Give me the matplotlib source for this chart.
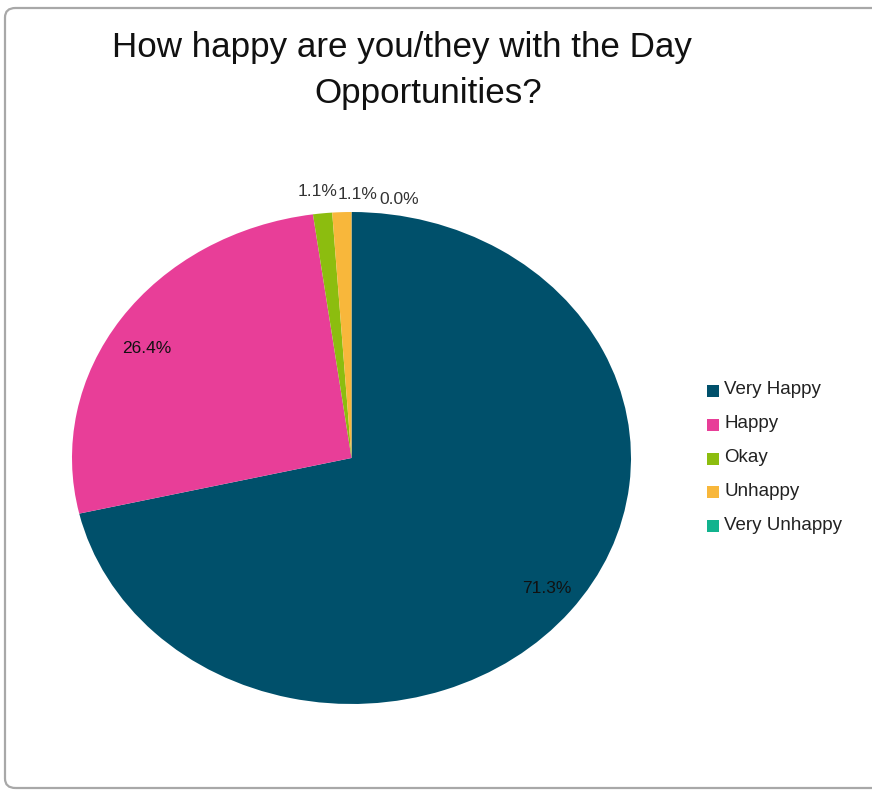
import numpy as np
import matplotlib.pyplot as plt
from matplotlib.patches import FancyBboxPatch

plt.rcParams['font.family'] = ['Liberation Sans', 'DejaVu Sans']

# antwoorden en percentages
categories = ["Very Happy", "Happy", "Okay", "Unhappy", "Very Unhappy"]
percentages = [71.3, 26.4, 1.1, 1.1, 0.0]
colours = ["#00506b", "#e83e98", "#8cbd0f", "#f8b73b", "#12b38e"]

# kleine sneden krijgen hun label buiten de taart; verschuiving (dx, dy) in px
label_outside = [False, False, True, True, True]
label_shift_px = [(5, -3), (-4, 12), (-3, -5), (16, 0), (48, 5)]

W, H = 872, 791
fig = plt.figure(figsize=(W / 100, H / 100), dpi=100)

# kader rond de grafiek
frame = FancyBboxPatch((5 / W, 3 / H), 900 / W, 780 / H,
                       boxstyle="round,pad=0,rounding_size=0.012",
                       transform=fig.transFigure, facecolor="none",
                       edgecolor="#a8a8a8", linewidth=1.6, zorder=-1)
fig.patches.append(frame)

# titel (twee regels)
fig.text(402 / W, 1 - 47 / H, "How happy are you/they with the Day",
         ha="center", va="center", fontsize=25.2, color="#111111")
fig.text(428 / W, 1 - 93 / H, "Opportunities?",
         ha="center", va="center", fontsize=25.2, color="#111111")

# taart als ellips: assen precies op het omhullende kader
left, right, top, bottom = 72, 631, 212, 704
ax = fig.add_axes([left / W, 1 - bottom / H, (right - left) / W, (bottom - top) / H])
wedges, _ = ax.pie(percentages, colors=colours, startangle=90, counterclock=False,
                   wedgeprops=dict(linewidth=0))
ax.set_aspect("auto")
ax.set_xlim(-1, 1)
ax.set_ylim(-1, 1)

total = sum(percentages)
start = 90.0
for p, out, (sx, sy) in zip(percentages, label_outside, label_shift_px):
    sweep = 360.0 * p / total
    mid = np.radians(start - sweep / 2)
    start -= sweep
    r = 1.07 if out else 0.87
    ax.annotate(f"{p:.1f}%", (r * np.cos(mid), r * np.sin(mid)),
                xytext=(sx * 0.72, -sy * 0.72), textcoords="offset points",
                ha="center", va="center", fontsize=12.5,
                color="#333333" if out else "#111111", annotation_clip=False)

# legenda rechts
leg_x, leg_y0, leg_dy = 707, 391, 33.8
for i, (cat, col) in enumerate(zip(categories, colours)):
    y = leg_y0 + i * leg_dy
    fig.patches.append(plt.Rectangle((leg_x / W, 1 - (y + 6) / H), 12 / W, 12 / H,
                                     transform=fig.transFigure, facecolor=col,
                                     edgecolor="none"))
    fig.text((leg_x + 17) / W, 1 - (y - 1) / H, cat, ha="left", va="center",
             fontsize=13.5, color="#222222")

fig.savefig("out.png", dpi=100)
